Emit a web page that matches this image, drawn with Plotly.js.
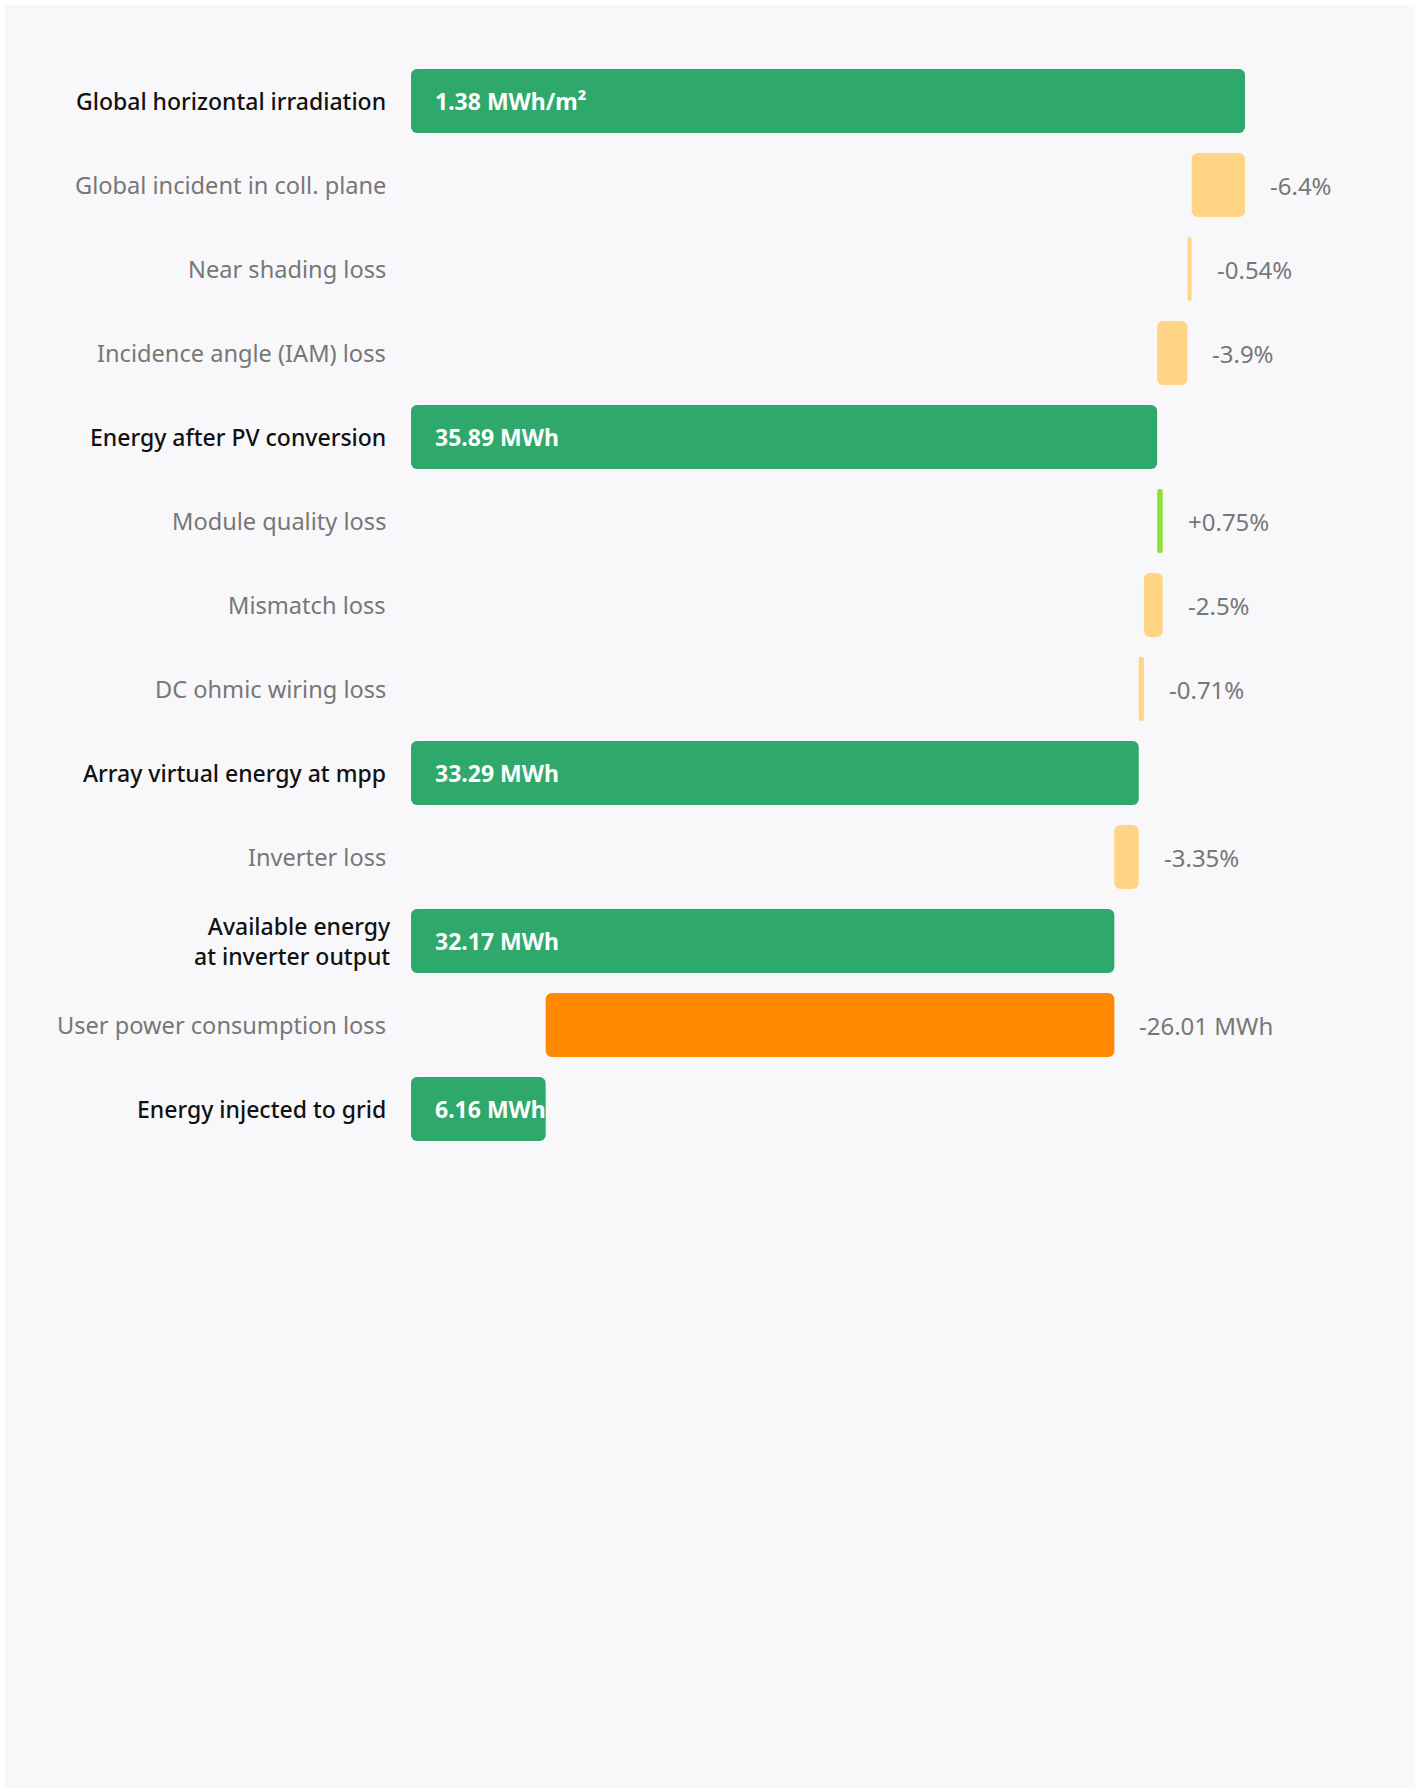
<!DOCTYPE html>
<html><head><meta charset="utf-8">
<script src="https://cdn.plot.ly/plotly-3.0.1.min.js"></script>
<style>
html,body{margin:0;padding:0;background:#ffffff;}
#panel{position:absolute;left:5px;top:5px;width:1410px;height:1783px;background:#f8f8fa;}
#chart{width:1410px;height:1783px;}
</style></head>
<body><div id="panel"><div id="chart"></div></div>
<script>
// ---- data ----
const categories = [
  'Global horizontal irradiation',
  'Global incident in coll. plane',
  'Near shading loss',
  'Incidence angle (IAM) loss',
  'Energy after PV conversion',
  'Module quality loss',
  'Mismatch loss',
  'DC ohmic wiring loss',
  'Array virtual energy at mpp',
  'Inverter loss',
  'Available energy<br>at inverter output',
  'User power consumption loss',
  'Energy injected to grid'
];
const kinds = ['total','loss','loss','loss','total','gain','loss','loss','total','loss','total','user','total'];
const changePct = [null, -6.4, -0.54, -3.9, null, 0.75, -2.5, -0.71, null, -3.35, null, null, null];
const changeMWh = [null, null, null, null, null, null, null, null, null, null, null, -26.01, null];
const totalMWh  = [null, null, null, null, 35.89, null, null, null, 33.29, null, 32.17, null, 6.16];
const valueLabels = ['1.38 MWh/m²','-6.4%','-0.54%','-3.9%','35.89 MWh','+0.75%','-2.5%','-0.71%',
                     '33.29 MWh','-3.35%','32.17 MWh','-26.01 MWh','6.16 MWh'];
const startLevel = 100; // global horizontal irradiation = 100 %

// ---- waterfall geometry from the steps ----
const colors = {total:'#2ea86b', loss:'#ffd585', gain:'#8fe03c', user:'#ff8800'};
let level = startLevel, lastMWh = null;
const bases = [], lengths = [], barColors = [], ends = [];
categories.forEach((c, i) => {
  const k = kinds[i];
  if (k === 'total') {
    bases.push(0); lengths.push(level);
    if (totalMWh[i] !== null) lastMWh = totalMWh[i];
  } else {
    let next;
    if (k === 'user') next = level * (1 + changeMWh[i] / lastMWh);
    else next = level * (1 + changePct[i] / 100);
    bases.push(Math.min(level, next));
    lengths.push(Math.abs(next - level));
    level = next;
  }
  barColors.push(colors[k]);
  ends.push(bases[i] + lengths[i]);
});
const ys = categories.map((c, i) => i);

const trace = {
  type: 'bar', orientation: 'h',
  y: ys, x: lengths, base: bases,
  marker: {color: barColors, line: {width: 0}, cornerradius: 6},
  hoverinfo: 'skip'
};

const FONT = 'Noto Sans, Roboto, sans-serif';
const annotations = [];
categories.forEach((c, i) => {
  const dark = kinds[i] === 'total';
  annotations.push({
    xref: 'paper', yref: 'y', x: 0, y: i, xanchor: 'right', yanchor: 'middle',
    xshift: (i === 10 ? -18 : -23), showarrow: false, align: 'right', text: c,
    font: {family: FONT, size: dark ? 23 : 23.6, color: dark ? '#111111' : '#777777', weight: dark ? 500 : 400}
  });
  if (dark) {
    annotations.push({
      xref: 'x', yref: 'y', x: 0, y: i, xanchor: 'left', yanchor: 'middle', xshift: 22,
      showarrow: false, text: valueLabels[i],
      font: {family: FONT, size: 23, color: '#ffffff', weight: 700}
    });
  } else {
    annotations.push({
      xref: 'x', yref: 'y', x: ends[i], y: i, xanchor: 'left', yanchor: 'middle', xshift: 23,
      showarrow: false, text: valueLabels[i],
      font: {family: FONT, size: 24, color: '#777777', weight: 400}
    });
  }
});

const layout = {
  width: 1410, height: 1783,
  paper_bgcolor: 'rgba(0,0,0,0)', plot_bgcolor: 'rgba(0,0,0,0)',
  margin: {l: 406, r: 10, t: 54, b: 637, pad: 0},
  showlegend: false, bargap: 0.238,
  xaxis: {range: [0, 994 / 8.34], showgrid: false, zeroline: false, showticklabels: false, showline: false, fixedrange: true},
  yaxis: {range: [12.5, -0.5], showgrid: false, zeroline: false, showticklabels: false, showline: false, fixedrange: true},
  annotations: annotations,
  font: {family: FONT}
};
Plotly.newPlot('chart', [trace], layout, {displayModeBar: false, staticPlot: true});
</script></body></html>
